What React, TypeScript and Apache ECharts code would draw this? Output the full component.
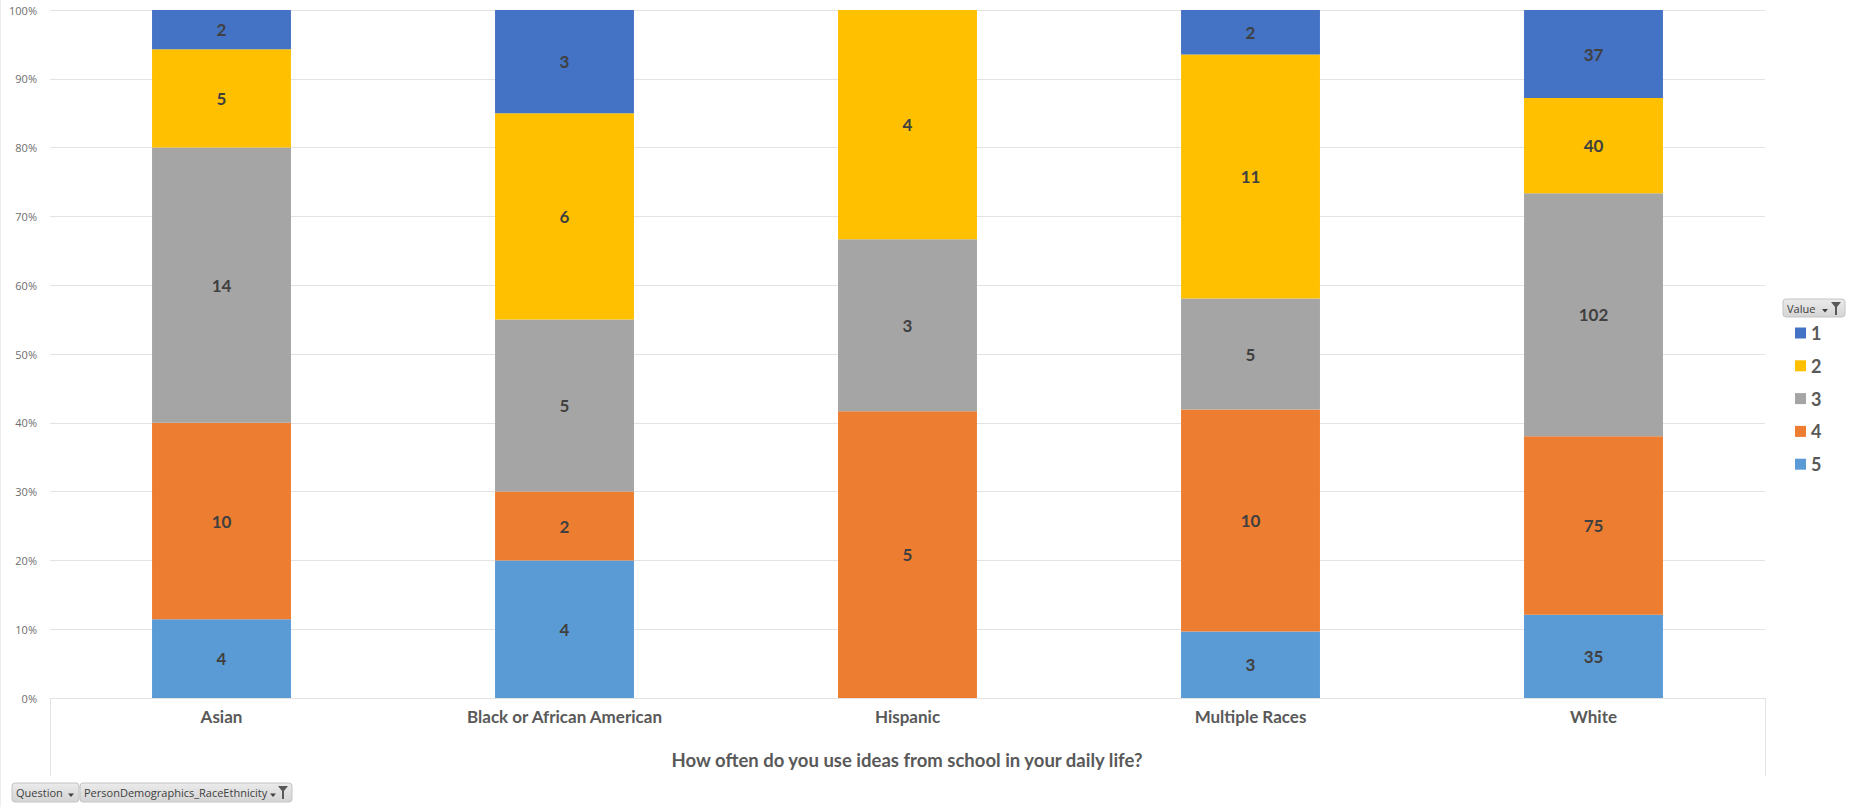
import React, { useEffect, useRef } from "react";
import * as echarts from "echarts";

const categories = ["Asian", "Black or African American", "Hispanic", "Multiple Races", "White"];
const valueNames = ["1", "2", "3", "4", "5"];
const counts1 = [2, 3, 0, 2, 37];
const counts2 = [5, 6, 4, 11, 40];
const counts3 = [14, 5, 3, 5, 102];
const counts4 = [10, 2, 5, 10, 75];
const counts5 = [4, 4, 0, 3, 35];
const colors: Record<string, string> = {
  "1": "#4472C4",
  "2": "#FFC000",
  "3": "#A5A5A5",
  "4": "#ED7D31",
  "5": "#5B9BD5",
};
const yTicks = [0, 10, 20, 30, 40, 50, 60, 70, 80, 90, 100];
const axisTitle = "How often do you use ideas from school in your daily life?";

const FONT = "Lato, 'Open Sans', sans-serif";

function funnel(x: number, y: number) {
  return {
    type: "polygon",
    shape: {
      points: [
        [x, y],
        [x + 10, y],
        [x + 6, y + 5],
        [x + 6, y + 13],
        [x + 4, y + 13],
        [x + 4, y + 5],
      ],
    },
    style: { fill: "#595959" },
  };
}

function arrow(x: number, y: number) {
  return {
    type: "polygon",
    shape: { points: [[x, y], [x + 6, y], [x + 3, y + 3.5]] },
    style: { fill: "#404040" },
  };
}

function button(x: number, y: number, w: number, h: number, label: string, withFunnel: boolean, arrowX: number) {
  const items: any[] = [
    {
      type: "rect",
      shape: { x, y, width: w, height: h, r: 3 },
      style: {
        fill: new echarts.graphic.LinearGradient(0, 0, 0, 1, [
          { offset: 0, color: "#EBEBEB" },
          { offset: 1, color: "#D4D4D4" },
        ]),
        stroke: "#C4C4C4",
        lineWidth: 1,
      },
    },
    {
      type: "text",
      style: {
        x: x + 4,
        y: y + h / 2,
        text: label,
        fill: "#404040",
        font: "11px 'Open Sans', sans-serif",
        verticalAlign: "middle",
      },
    },
    arrow(arrowX, y + h / 2 + 1),
  ];
  if (withFunnel) items.push(funnel(x + w - 14, y + 3));
  return items;
}

export default function App() {
  const ref = useRef<HTMLDivElement>(null);
  useEffect(() => {
    if (!ref.current) return;
    const chart = echarts.init(ref.current, undefined, { renderer: "svg" });
    const all = [counts1, counts2, counts3, counts4, counts5];
    const totals = categories.map((_, i) => all.reduce((s, a) => s + a[i], 0));
    const seriesFor = (name: string, arr: number[]) => ({
      name,
      type: "bar",
      stack: "total",
      barWidth: "40.5%",
      itemStyle: { color: colors[name] },
      label: {
        show: true,
        position: "inside",
        color: "#404040",
        fontFamily: FONT,
        fontWeight: "bold",
        fontSize: 17,
        formatter: (p: any) => (arr[p.dataIndex] ? String(arr[p.dataIndex]) : ""),
      },
      data: arr.map((c, i) => (c / totals[i]) * 100),
    });
    const series = [
      seriesFor("5", counts5),
      seriesFor("4", counts4),
      seriesFor("3", counts3),
      seriesFor("2", counts2),
      seriesFor("1", counts1),
    ];
    chart.setOption({
      animation: false,
      backgroundColor: "#FFFFFF",
      grid: { left: 50, right: 88, top: 10, bottom: 109, containLabel: false },
      legend: {
        orient: "vertical",
        left: 1790,
        top: 319,
        data: valueNames,
        itemWidth: 11,
        itemHeight: 11,
        itemGap: 14.8,
        icon: "rect",
        textStyle: { color: "#595959", fontFamily: FONT, fontWeight: "bold", fontSize: 18, lineHeight: 16 },
        selectedMode: false,
      },
      xAxis: {
        type: "category",
        data: categories,
        axisLine: { show: true, lineStyle: { color: "#E3E3E3" } },
        axisTick: { show: false },
        axisLabel: {
          color: "#595959",
          fontFamily: FONT,
          fontWeight: "bold",
          fontSize: 17,
          margin: 10,
        },
      },
      yAxis: {
        type: "value",
        min: 0,
        max: 100,
        interval: 10,
        axisLine: { show: false },
        axisTick: { show: false },
        axisLabel: {
          color: "#6E6E6E",
          fontFamily: "'Open Sans', sans-serif",
          fontSize: 11,
          margin: 13,
          formatter: (v: number) => (yTicks.includes(v) ? v + "%" : ""),
        },
        splitLine: { lineStyle: { color: "#E3E3E3" } },
      },
      graphic: [
        { type: "line", shape: { x1: 50.5, y1: 698, x2: 50.5, y2: 776 }, style: { stroke: "#E3E3E3", lineWidth: 1 } },
        { type: "line", shape: { x1: 1765.5, y1: 698, x2: 1765.5, y2: 776 }, style: { stroke: "#E3E3E3", lineWidth: 1 } },
        { type: "line", shape: { x1: 0.5, y1: 0, x2: 0.5, y2: 807 }, style: { stroke: "#EDEDED", lineWidth: 1 } },
        {
          type: "text",
          style: {
            x: 907,
            y: 760,
            text: axisTitle,
            fill: "#595959",
            font: "bold 18.5px " + FONT,
            align: "center",
            verticalAlign: "middle",
          },
        },
        ...button(1783, 299, 62, 18, "Value", true, 1822),
        ...button(12, 783, 67, 19, "Question", false, 68),
        ...button(80, 783, 212, 19, "PersonDemographics_RaceEthnicity", true, 270),
      ],
      series,
    });
    return () => chart.dispose();
  }, []);
  return <div ref={ref} style={{ position: "fixed", left: 0, top: 0, width: 1853, height: 807 }} />;
}
